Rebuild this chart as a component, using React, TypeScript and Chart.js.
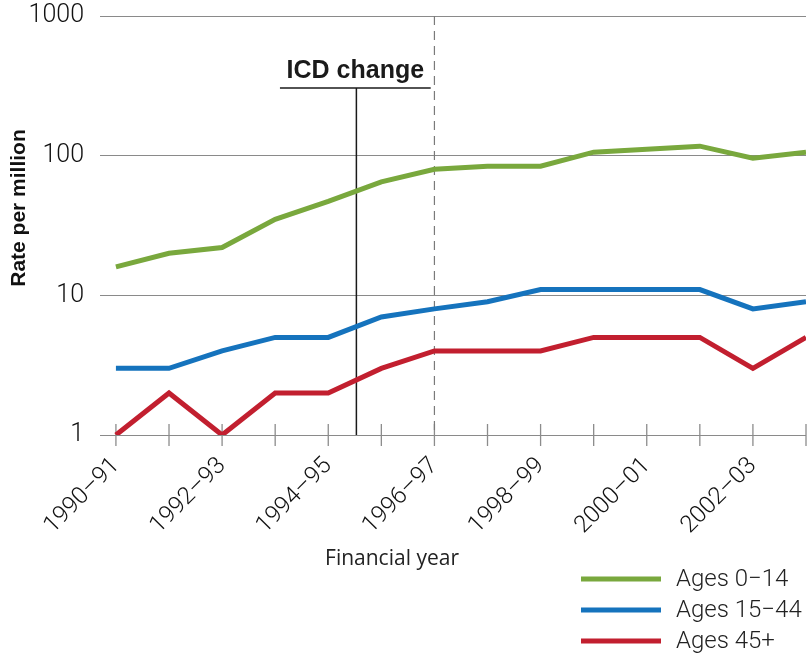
import React, { useEffect, useRef } from "react";
import { Chart, registerables } from "chart.js";

Chart.register(...registerables);

// ---- Data ----
const YEARS = [
  "1990–91", "1991–92", "1992–93", "1993–94", "1994–95", "1995–96", "1996–97",
  "1997–98", "1998–99", "1999–00", "2000–01", "2001–02", "2002–03", "2003–04",
];
const AGES_0_14 = [16, 20, 22, 35, 47, 65, 80, 84, 84, 106, 111, 117, 96, 106];
const AGES_15_44 = [3, 3, 4, 5, 5, 7, 8, 9, 11, 11, 11, 11, 8, 9];
const AGES_45_PLUS = [1, 2, 1, 2, 2, 3, 4, 4, 4, 5, 5, 5, 3, 5];
const SERIES_LABELS = ["Ages 0−14", "Ages 15−44", "Ages 45+"];
const SERIES_COLORS = ["#79a83d", "#1573bd", "#c21f2f"];
const Y_TICKS = [1, 10, 100, 1000];

// annotation positions in data units
const ICD_X = 4.53;          // ICD change marker
const ICD_Y = 305;           // height of bracket
const ICD_BRACKET = [3.09, 5.93];
const DASHED_X = 6;          // 1996–97

const TICK_FONT = "'Roboto', 'Liberation Sans', Arial, sans-serif";

function toPoints(arr: number[]) {
  return arr.map((v, i) => ({ x: i, y: v }));
}

const decorPlugin = {
  id: "decor",
  beforeDatasetsDraw(chart: any) {
    const { ctx, chartArea, scales } = chart;
    const x = scales.x;
    const y = scales.y;
    const yb = y.getPixelForValue(1);
    const line = (x1: number, y1: number, x2: number, y2: number) => {
      ctx.beginPath();
      ctx.moveTo(x1, y1);
      ctx.lineTo(x2, y2);
      ctx.stroke();
    };
    ctx.save();
    // tick marks crossing the base axis
    ctx.strokeStyle = "#8c8c8c";
    ctx.lineWidth = 1.3;
    YEARS.forEach((_, i) => {
      const px = x.getPixelForValue(i);
      line(px, yb - 11, px, yb + 11);
    });
    // dashed line
    ctx.setLineDash([9, 6]);
    ctx.strokeStyle = "#7a7a7a";
    ctx.lineWidth = 1.2;
    const dx = x.getPixelForValue(DASHED_X);
    line(dx, chartArea.top, dx, yb);
    ctx.setLineDash([]);
    // ICD change marker
    ctx.strokeStyle = "#1a1a1a";
    ctx.lineWidth = 1.5;
    const ix = x.getPixelForValue(ICD_X);
    const iy = y.getPixelForValue(ICD_Y);
    line(ix, iy, ix, yb);
    const bx1 = x.getPixelForValue(ICD_BRACKET[0]);
    const bx2 = x.getPixelForValue(ICD_BRACKET[1]);
    line(bx1, iy, bx2, iy);
    ctx.fillStyle = "#1a1a1a";
    ctx.font = "bold 25px 'Liberation Sans', Arial, sans-serif";
    ctx.textAlign = "center";
    ctx.textBaseline = "alphabetic";
    ctx.fillText("ICD change", (bx1 + bx2) / 2, iy - 10);
    ctx.restore();
  },
  afterDraw(chart: any) {
    const { ctx } = chart;
    ctx.save();
    // y axis title
    ctx.fillStyle = "#111";
    ctx.font = "bold 21px 'Liberation Sans', Arial, sans-serif";
    ctx.textAlign = "center";
    ctx.textBaseline = "middle";
    ctx.translate(19, 208);
    ctx.rotate(-Math.PI / 2);
    ctx.fillText("Rate per million", 0, 0);
    ctx.restore();

    ctx.save();
    // x axis title
    ctx.fillStyle = "#222";
    ctx.font = "21px 'Open Sans', sans-serif";
    ctx.textAlign = "center";
    ctx.textBaseline = "middle";
    ctx.fillText("Financial year", 392, 559);

    // legend
    chart.data.datasets.forEach((ds: any, i: number) => {
      const ly = 579 + i * 31;
      ctx.strokeStyle = ds.borderColor;
      ctx.lineWidth = 5;
      ctx.beginPath();
      ctx.moveTo(581, ly);
      ctx.lineTo(661, ly);
      ctx.stroke();
      ctx.fillStyle = "#222";
      ctx.font = `300 24px ${TICK_FONT}`;
      ctx.textAlign = "left";
      ctx.textBaseline = "middle";
      ctx.fillText(ds.label, 676, ly + 1);
    });
    ctx.restore();
  },
};

export default function App() {
  const canvasRef = useRef<HTMLCanvasElement | null>(null);

  useEffect(() => {
    if (!canvasRef.current) return;
    const seriesData = [AGES_0_14, AGES_15_44, AGES_45_PLUS];
    const chart = new Chart(canvasRef.current, {
      type: "line",
      data: {
        datasets: seriesData.map((arr, i) => ({
          label: SERIES_LABELS[i],
          data: toPoints(arr),
          borderColor: SERIES_COLORS[i],
          backgroundColor: SERIES_COLORS[i],
          borderWidth: 5,
          pointRadius: 0,
          tension: 0,
          borderJoinStyle: "miter" as const,
        })),
      },
      options: {
        animation: false,
        responsive: true,
        maintainAspectRatio: false,
        layout: { padding: { top: 16, right: 6, left: 0, bottom: 0 } },
        plugins: {
          legend: { display: false },
          tooltip: { enabled: false },
        },
        scales: {
          x: {
            type: "linear",
            min: -0.3,
            max: YEARS.length - 1,
            afterBuildTicks: (scale: any) => {
              scale.ticks = YEARS.map((_, i) => ({ value: i }));
            },
            afterFit: (scale: any) => {
              scale.height = 227;
              scale.paddingLeft = 0;
              scale.paddingRight = 0;
              scale.paddingTop = 0;
              scale.paddingBottom = 0;
            },
            grid: { display: false },
            border: { display: false },
            ticks: {
              autoSkip: false,
              minRotation: 45,
              maxRotation: 45,
              padding: 9,
              color: "#111",
              font: { family: TICK_FONT, size: 24, weight: "300" },
              callback: (value: any) => {
                const i = Math.round(Number(value));
                return i % 2 === 0 ? YEARS[i] : null;
              },
            },
          },
          y: {
            type: "logarithmic",
            min: 1,
            max: 1000,
            afterBuildTicks: (scale: any) => {
              scale.ticks = Y_TICKS.map((v) => ({ value: v }));
            },
            afterFit: (scale: any) => {
              scale.width = 100;
              scale.paddingTop = 0;
              scale.paddingBottom = 0;
              scale.paddingLeft = 0;
              scale.paddingRight = 0;
            },
            grid: { color: "#8a8a8a", lineWidth: 1, drawTicks: false },
            border: { display: false },
            ticks: {
              padding: 16,
              color: "#111",
              font: { family: TICK_FONT, size: 25, weight: "300" },
              callback: (value: any) => String(value),
            },
          },
        },
      },
      plugins: [decorPlugin],
    });
    return () => chart.destroy();
  }, []);

  return (
    <div style={{ position: "fixed", left: 0, top: 0, width: 812, height: 662, background: "#fff" }}>
      <canvas ref={canvasRef} />
    </div>
  );
}
